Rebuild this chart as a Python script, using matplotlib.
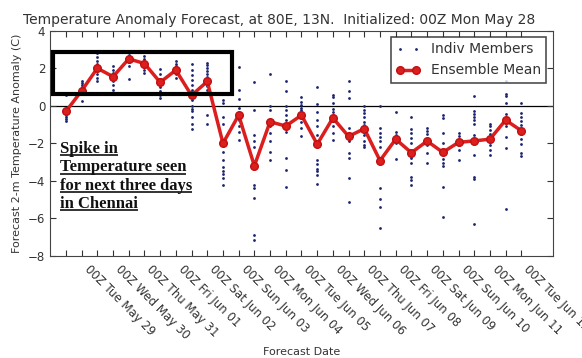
import pandas as pd
import matplotlib
matplotlib.use('Agg')
import matplotlib.pyplot as plt
from matplotlib.patches import Rectangle

# forecast valid times, every 12 h from 12Z Mon May 28
times = pd.date_range('2012-05-28 12:00', periods=30, freq='12h')

ens_mean = [-0.3, 0.8, 2.0, 1.55, 2.5, 2.25, 1.25, 1.9, 0.55, 1.3,
            -2.0, -0.5, -3.2, -0.85, -1.08, -0.5, -2.05, -0.65, -1.63, -1.22,
            -2.92, -1.78, -2.5, -1.88, -2.48, -1.95, -1.87, -1.78, -0.76, -1.33]

members = [
    [0.6, -0.2, -0.3, -0.4, -0.5, -0.6, -0.7, -0.8],
    [1.3, 1.2, 1.1, 1.0, 0.9, 0.8, 0.7, 0.25],
    [2.8, 2.6, 2.4, 2.25, 2.1, 2.0, 1.9, 1.7, 1.5, 1.3],
    [2.1, 1.9, 1.75, 1.6, 1.45, 1.3, 1.1, 0.85],
    [2.85, 2.7, 2.6, 2.5, 2.35, 2.1, 1.4],
    [2.65, 2.5, 2.35, 2.2, 2.05, 1.9, 1.75],
    [1.95, 1.7, 1.45, 1.25, 1.0, 0.8, 0.6, 0.4],
    [2.4, 2.25, 2.1, 1.9, 1.7, 1.5],
    [2.25, 1.9, 1.65, 1.35, 1.1, 0.85, 0.6, 0.3, 0.0, -0.15, -0.3, -0.6, -0.95, -1.25],
    [2.3, 2.15, 2.0, 1.85, 1.7, 1.55, 1.3, 1.05, 0.85, -0.5, -0.95],
    [0.3, 0.15, -0.6, -0.95, -2.0, -2.45, -2.9, -3.25, -3.45, -3.65, -3.85, -4.2],
    [2.05, 0.85, 0.35, -0.1, -0.4, -0.75, -1.1, -1.4, -1.8],
    [1.25, -0.2, -1.55, -1.85, -2.2, -3.25, -4.2, -4.4, -4.9, -6.9, -7.15],
    [1.7, 0.0, -0.25, -0.75, -1.1, -1.45, -1.9, -2.45, -2.9],
    [1.3, 0.8, 0.0, -0.25, -0.5, -0.75, -1.1, -1.4, -2.8, -3.4, -4.3],
    [0.45, 0.2, 0.05, -0.1, -0.25, -0.4, -0.6, -0.85, -1.2, -1.6],
    [1.0, 0.1, -0.35, -0.75, -1.1, -1.55, -2.05, -2.9, -3.1, -3.35, -3.5, -3.7, -4.15],
    [0.6, 0.45, 0.15, -0.15, -0.35, -0.65, -1.1, -1.45, -1.8],
    [1.3, 0.8, 0.4, -1.2, -1.65, -1.9, -2.5, -2.8, -3.85, -5.15],
    [0.0, -0.2, -0.4, -0.6, -0.85, -1.05, -1.2, -1.55, -1.85, -2.1, -2.2],
    [0.0, -1.2, -1.45, -1.65, -1.9, -2.2, -2.9, -4.4, -4.95, -5.4, -6.5],
    [-0.35, -1.4, -1.55, -1.8, -2.0, -2.85],
    [-0.6, -1.25, -1.45, -1.7, -2.0, -2.5, -2.8, -3.05, -3.8, -3.95, -4.2],
    [-1.2, -1.35, -1.5, -1.9, -2.1, -2.5, -3.05],
    [-0.5, -0.65, -1.45, -2.0, -2.55, -2.85, -3.05, -3.2, -4.3, -5.9],
    [-1.45, -1.6, -1.85, -2.1, -2.35, -2.9],
    [0.5, -0.3, -0.45, -0.6, -0.75, -0.95, -1.55, -2.6, -3.8, -3.9, -6.3],
    [-0.95, -1.1, -1.3, -1.5, -1.7, -2.1, -2.35, -2.6],
    [1.3, 0.65, 0.5, 0.15, -0.45, -0.75, -1.1, -1.65, -2.25, -5.5],
    [0.15, -0.4, -0.6, -0.8, -1.05, -1.35, -1.5, -1.75, -2.05, -2.5, -2.7],
]

date_labels = ['00Z Tue May 29', '00Z Wed May 30', '00Z Thu May 31', '00Z Fri Jun 01',
               '00Z Sat Jun 02', '00Z Sun Jun 03', '00Z Mon Jun 04', '00Z Tue Jun 05',
               '00Z Wed Jun 06', '00Z Thu Jun 07', '00Z Fri Jun 08', '00Z Sat Jun 09',
               '00Z Sun Jun 10', '00Z Mon Jun 11', '00Z Tue Jun 12']

note_lines = ['Spike in', 'Temperature seen', 'for next three days', 'in Chennai']

txt = '#333333'
fig = plt.figure(figsize=(5.82, 3.58), dpi=100)
ax = fig.add_axes([0.0863, 0.285, 0.8634, 0.6293])

for t, m in zip(times, members):
    ax.plot([t] * len(m), m, '.', color='#1c2470', ms=4, mew=0, zorder=2)
ax.plot([], [], '.', color='#1c2470', ms=4, mew=0, label='Indiv Members')
ax.plot(times, ens_mean, '-o', color='#dc1e1e', lw=2.5, ms=5.5, mec='#c01010',
        label='Ensemble Mean', zorder=3)
ax.axhline(0, color='k', lw=0.9, zorder=1)

ax.set_xlim(times[0] - pd.Timedelta(hours=12), times[-1] + pd.Timedelta(hours=24))
ax.set_ylim(-8, 4)
ax.set_yticks(range(-8, 5, 2))

# ticks every 12 h, labels only on the 00Z ones
tick_text = []
for lab in date_labels:
    tick_text += ['', lab]
ax.set_xticks(times)
ax.set_xticklabels(tick_text, rotation=-45, ha='left', fontsize=8.5, color=txt)
ax.tick_params(which='both', direction='in', top=True, right=True, length=4,
               labelsize=8.5, labelcolor=txt, color='#333333')
ax.tick_params(axis='x', pad=5)
for s in ax.spines.values():
    s.set_color('#444444')

ax.set_title('Temperature Anomaly Forecast, at 80E, 13N.  Initialized: 00Z Mon May 28',
             fontsize=10, color=txt, x=0.456, pad=5)
ax.set_ylabel('Forecast 2-m Temperature Anomaly (C)', fontsize=8, color=txt, labelpad=4)
ax.set_xlabel('Forecast Date', fontsize=8, color=txt, labelpad=4)

leg = ax.legend(loc='upper right', numpoints=2, handlelength=1.7, fontsize=10,
                fancybox=False, borderaxespad=0.45, labelcolor=txt)
leg.get_frame().set_edgecolor('#222222')
leg.get_frame().set_linewidth(1.2)

ax.add_patch(Rectangle((0.006, 0.719), 0.355, 0.188, transform=ax.transAxes,
                       fill=False, ec='k', lw=3, zorder=4))

# hand-made underlined note
ys = [0.459, 0.377, 0.295, 0.213]
notes = []
for line, y in zip(note_lines, ys):
    notes.append(ax.text(0.019, y, line, transform=ax.transAxes, va='baseline',
                         ha='left', fontsize=12, fontweight='bold',
                         family='Liberation Serif', color='#111111'))
fig.canvas.draw()
r = fig.canvas.get_renderer()
inv = ax.transAxes.inverted()
for tx, y in zip(notes, ys):
    bb = tx.get_window_extent(r)
    x0 = inv.transform((bb.x0, 0))[0]
    x1 = inv.transform((bb.x1, 0))[0]
    dy = 2.5 / (ax.bbox.height)
    ax.plot([x0, x1], [y - dy, y - dy], transform=ax.transAxes, color='#111111',
            lw=1.2, solid_capstyle='butt')

fig.savefig('out.png', dpi=100)
